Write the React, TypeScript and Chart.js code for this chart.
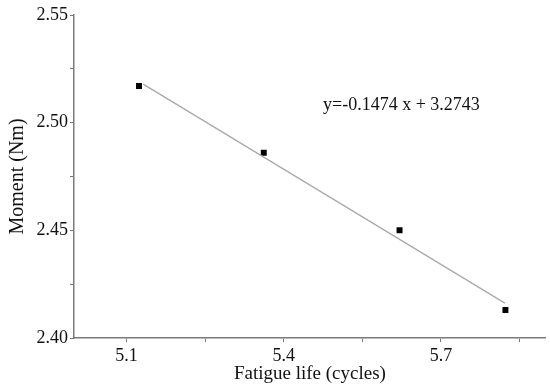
import React, { useEffect, useRef } from "react";
import { Chart, registerables } from "chart.js";

Chart.register(...registerables);

const fatigueLife = [5.124, 5.362, 5.621, 5.823];
const moment = [2.517, 2.486, 2.450, 2.413];
const fitX = [5.132, 5.822];
const fitY = [2.5179, 2.4162];
const xTicks = [5.1, 5.25, 5.4, 5.55, 5.7, 5.85];
const xLabels = ["5.1", "", "5.4", "", "5.7", ""];
const yTicks = [2.4, 2.425, 2.45, 2.475, 2.5, 2.525, 2.55];
const yLabels = ["2.40", "", "2.45", "", "2.50", "", "2.55"];
const equation = "y=-0.1474 x + 3.2743";
const equationAt = { x: 5.475, y: 2.508 };

const FONT = "'Liberation Serif', 'Times New Roman', serif";
const AXIS = "#7a7a7a";

export default function App() {
  const ref = useRef<HTMLCanvasElement>(null);
  useEffect(() => {
    if (!ref.current) return;
    const eqPlugin = {
      id: "eq",
      afterDatasetsDraw(chart: any) {
        const { ctx, scales } = chart;
        ctx.save();
        ctx.font = `18px ${FONT}`;
        ctx.fillStyle = "#111";
        ctx.textAlign = "left";
        ctx.textBaseline = "middle";
        ctx.fillText(
          equation,
          scales.x.getPixelForValue(equationAt.x),
          scales.y.getPixelForValue(equationAt.y)
        );
        ctx.restore();
      },
    };
    const chart = new Chart(ref.current, {
      type: "scatter",
      data: {
        datasets: [
          {
            label: "fit",
            data: fitX.map((x, i) => ({ x, y: fitY[i] })),
            showLine: true,
            borderColor: "#a8a8a8",
            borderWidth: 1.2,
            pointRadius: 0,
          },
          {
            label: "data",
            data: fatigueLife.map((x, i) => ({ x, y: moment[i] })),
            pointStyle: "rect",
            pointRadius: 4.2,
            backgroundColor: "#000",
            borderColor: "#000",
            borderWidth: 0,
          },
        ],
      },
      options: {
        responsive: false,
        animation: false,
        layout: { padding: { top: 15, right: 2, left: 0, bottom: 0 } },
        plugins: { legend: { display: false }, tooltip: { enabled: false } },
        scales: {
          x: {
            type: "linear",
            min: 5.0,
            max: 5.9,
            afterBuildTicks: (s: any) => {
              s.ticks = xTicks.map((v) => ({ value: v }));
            },
            afterFit: (s: any) => {
              s.height = 46;
            },
            ticks: {
              autoSkip: false,
              maxRotation: 0,
              padding: 3,
              color: "#111",
              font: { family: FONT, size: 18 },
              callback: (v: any, i: number) => xLabels[i],
            },
            grid: {
              display: true,
              drawOnChartArea: false,
              drawTicks: true,
              tickLength: 4,
              color: AXIS,
            },
            border: { display: true, color: AXIS, width: 1.5 },
            title: {
              display: true,
              text: "Fatigue life (cycles)",
              color: "#111",
              font: { family: FONT, size: 19, lineHeight: 1 },
              padding: { top: 0, bottom: 0 },
            },
          },
          y: {
            type: "linear",
            min: 2.4,
            max: 2.55,
            afterBuildTicks: (s: any) => {
              s.ticks = yTicks.map((v) => ({ value: v }));
            },
            afterFit: (s: any) => {
              s.width = 74;
            },
            ticks: {
              autoSkip: false,
              padding: 2,
              color: "#111",
              font: { family: FONT, size: 18 },
              callback: (v: any, i: number) => yLabels[i],
            },
            grid: {
              display: true,
              drawOnChartArea: false,
              drawTicks: true,
              tickLength: 4,
              color: AXIS,
            },
            border: { display: true, color: AXIS, width: 1.5 },
            title: {
              display: true,
              text: "Moment (Nm)",
              color: "#111",
              font: { family: FONT, size: 20, lineHeight: 1 },
              padding: { top: 8, bottom: 0 },
            },
          },
        },
      },
      plugins: [eqPlugin],
    });
    return () => chart.destroy();
  }, []);
  return (
    <div style={{ position: "absolute", left: 0, top: 0, width: 550, height: 384, background: "#fff" }}>
      <canvas ref={ref} width={550} height={384} />
    </div>
  );
}
